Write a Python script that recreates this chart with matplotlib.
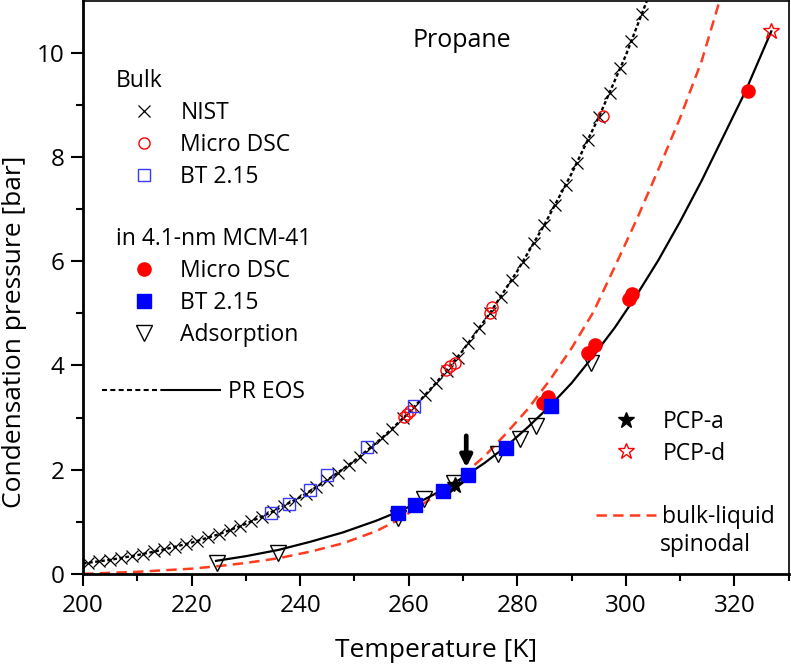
import matplotlib.pyplot as plt
from matplotlib.lines import Line2D

plt.rcParams['font.family'] = ['Open Sans', 'DejaVu Sans']
plt.rcParams['lines.scale_dashes'] = False

# bulk NIST saturation pressure
nist_T = [201, 203, 205, 207, 209, 211, 213, 215, 217, 219, 221, 223, 225, 227, 229,
          231, 233, 235, 237, 239, 241, 243, 245, 247, 249, 251, 253, 255, 257, 259,
          261, 263, 265, 267, 269, 271, 273, 275, 277, 279, 281, 283, 285, 287, 289,
          291, 293, 295, 297, 299, 301, 303]
nist_P = [0.21, 0.24, 0.27, 0.30, 0.34, 0.38, 0.43, 0.47, 0.52, 0.57, 0.63, 0.70, 0.76, 0.84, 0.92,
          1.01, 1.10, 1.20, 1.30, 1.42, 1.54, 1.67, 1.80, 1.94, 2.09, 2.25, 2.43, 2.60, 2.79, 2.99,
          3.20, 3.43, 3.66, 3.90, 4.15, 4.43, 4.72, 5.01, 5.31, 5.64, 5.98, 6.35, 6.70, 7.07, 7.46,
          7.89, 8.32, 8.76, 9.22, 9.70, 10.22, 10.75]

# bulk measurements
bulk_dsc_T = [259.1, 259.7, 260.3, 266.8, 267.6, 268.5, 275.0, 275.3, 295.8]
bulk_dsc_P = [3.02, 3.07, 3.12, 3.92, 3.99, 4.05, 5.00, 5.12, 8.78]
bulk_bt_T = [234.7, 238.0, 241.9, 244.9, 252.3, 260.9]
bulk_bt_P = [1.16, 1.34, 1.61, 1.89, 2.44, 3.22]

# in 4.1-nm MCM-41
pore_dsc_T = [284.8, 285.7, 293.1, 294.3, 300.6, 301.1, 322.5]
pore_dsc_P = [3.28, 3.40, 4.24, 4.39, 5.27, 5.37, 9.26]
pore_bt_T = [258.0, 261.2, 266.3, 271.0, 277.9, 286.2]
pore_bt_P = [1.16, 1.33, 1.60, 1.90, 2.41, 3.23]
ads_T = [224.6, 235.9, 258.1, 262.8, 268.3, 276.4, 280.5, 283.5, 293.5]
ads_P = [0.20, 0.41, 1.07, 1.43, 1.75, 2.30, 2.58, 2.83, 4.05]

# pore critical points
pcp_a_T, pcp_a_P = [268.6], [1.71]
pcp_d_T, pcp_d_P = [326.8], [10.41]

# PR EOS curves
eos_bulk_T = [200, 205, 210, 215, 220, 225, 230, 235, 240, 245, 250, 255, 260, 265, 270,
              275, 280, 285, 290, 295, 300, 305]
eos_bulk_P = [0.20, 0.27, 0.36, 0.47, 0.60, 0.76, 0.96, 1.20, 1.47, 1.80, 2.17, 2.60, 3.09, 3.66, 4.29,
              5.01, 5.81, 6.70, 7.68, 8.76, 9.95, 11.30]
eos_pore_T = [224.5, 230, 236, 242, 248, 254, 258, 262, 266, 270, 274, 278, 282, 286, 290,
              294, 298, 302, 306, 310, 314, 318, 322, 326.8]
eos_pore_P = [0.25, 0.34, 0.46, 0.62, 0.80, 1.02, 1.19, 1.38, 1.60, 1.85, 2.13, 2.45, 2.82, 3.22, 3.66,
              4.18, 4.73, 5.35, 6.02, 6.76, 7.55, 8.40, 9.25, 10.41]

# bulk-liquid spinodal
spin_T = [200, 205, 210, 215, 220, 225, 230, 236, 242, 248, 254, 258, 262, 266, 270,
          274, 278, 282, 286, 290, 294, 298, 302, 306, 310, 314, 318]
spin_P = [0.00, 0.02, 0.04, 0.07, 0.10, 0.15, 0.21, 0.30, 0.43, 0.59, 0.82, 1.03, 1.30, 1.57, 1.90,
          2.26, 2.70, 3.17, 3.72, 4.33, 5.02, 5.90, 6.80, 7.76, 8.75, 9.85, 11.25]

arrow_T = 270.6
arrow_P = [2.65, 2.04]

fig, ax = plt.subplots(figsize=(7.91, 6.65), dpi=100)
fig.subplots_adjust(left=0.105, right=0.997, bottom=0.137, top=0.999)

red = '#ff0000'
spin_red = '#ff3c1e'

# lines
ax.plot(eos_bulk_T, eos_bulk_P, color='k', lw=1.7, linestyle=(0, (2.6, 1.8)), zorder=2)
ax.plot(eos_pore_T, eos_pore_P, color='k', lw=1.6, zorder=2)
h_spin, = ax.plot(spin_T, spin_P, color=spin_red, lw=1.8, linestyle=(0, (7.5, 4.5)), zorder=2)

# markers
h_nist, = ax.plot(nist_T, nist_P, 'x', color='k', ms=8.5, mew=0.9, zorder=3)
h_bdsc, = ax.plot(bulk_dsc_T, bulk_dsc_P, 'o', mfc='none', mec=red, ms=8, mew=1, zorder=4)
h_bbt, = ax.plot(bulk_bt_T, bulk_bt_P, 's', mfc='none', mec='#3a3aff', ms=8.5, mew=1, zorder=4)
h_ads, = ax.plot(ads_T, ads_P, 'v', mfc='none', mec='k', ms=11.5, mew=1, zorder=4)
h_pdsc, = ax.plot(pore_dsc_T, pore_dsc_P, 'o', color=red, ms=9.5, zorder=5)
h_pbt, = ax.plot(pore_bt_T, pore_bt_P, 's', color='#0000ff', ms=9.5, zorder=5)
h_pcpa, = ax.plot(pcp_a_T, pcp_a_P, '*', color='k', ms=12, zorder=6)
h_pcpd, = ax.plot(pcp_d_T, pcp_d_P, '*', mfc='none', mec=red, ms=12, mew=1, zorder=6)

ax.annotate('', xy=(arrow_T, arrow_P[1]), xytext=(arrow_T, arrow_P[0]),
            arrowprops=dict(arrowstyle='-|>', color='k', lw=3.4, mutation_scale=17,
                            shrinkA=0, shrinkB=0), zorder=7)

# axes
ax.set_xlim(200, 330)
ax.set_ylim(0, 11)
ax.set_xticks([200, 220, 240, 260, 280, 300, 320])
ax.set_xticks([210, 230, 250, 270, 290, 310, 330], minor=True)
ax.set_yticks([0, 2, 4, 6, 8, 10])
ax.set_yticks([1, 3, 5, 7, 9], minor=True)
ax.tick_params(which='major', direction='out', length=8.3, width=1.5, labelsize=17.5)
ax.tick_params(which='minor', direction='out', length=4.7, width=1.5)
ax.tick_params(axis='x', which='major', pad=6)
ax.tick_params(axis='y', which='major', pad=5)
for side in ['left', 'bottom']:
    ax.spines[side].set_linewidth(2)
for side in ['top', 'right']:
    ax.spines[side].set_linewidth(1.2)

ax.set_xlabel('Temperature [K]', fontsize=19)
ax.set_ylabel('Condensation pressure [bar]', fontsize=19)
ax.xaxis.set_label_coords(0.5, -0.112)
ax.yaxis.set_label_coords(-0.079, 0.423)

ax.text(0.537, 0.930, 'Propane', transform=ax.transAxes, fontsize=18, ha='center', va='center')
ax.text(0.818, 0.0505, 'spinodal', transform=ax.transAxes, fontsize=16.5, ha='left', va='center')

# legends
common = dict(loc='upper left', frameon=False, fontsize=16.5, title_fontsize=16.5,
              borderpad=0, borderaxespad=0, alignment='left', labelspacing=0.34)

leg1 = ax.legend([h_nist, h_bdsc, h_bbt], ['NIST', 'Micro DSC', 'BT 2.15'], title='Bulk',
                 bbox_to_anchor=(0.047, 0.880), handlelength=2.45, handletextpad=0.35, **common)
ax.add_artist(leg1)

leg2 = ax.legend([h_pdsc, h_pbt, h_ads], ['Micro DSC', 'BT 2.15', 'Adsorption'],
                 title='in 4.1-nm MCM-41', bbox_to_anchor=(0.047, 0.6046),
                 handlelength=2.45, handletextpad=0.35, **common)
ax.add_artist(leg2)

eos_dash = (3.6, 2.4) * 7 + (43.7, 0.01)
h_eos = Line2D([], [], color='k', lw=1.5, linestyle=(0, eos_dash))
leg3 = ax.legend([h_eos], ['PR EOS'], bbox_to_anchor=(0.0265, 0.3385),
                 handlelength=5.2, handletextpad=0.3, **common)
ax.add_artist(leg3)

h_blank = Line2D([], [], lw=0, alpha=0)
leg4 = ax.legend([h_pcpa, h_pcpd, h_blank, h_spin], ['PCP-a', 'PCP-d', ' ', 'bulk-liquid'],
                 bbox_to_anchor=(0.727, 0.2864), handlelength=2.6, handletextpad=0.3, **common)

plt.savefig('out.png', dpi=100)
